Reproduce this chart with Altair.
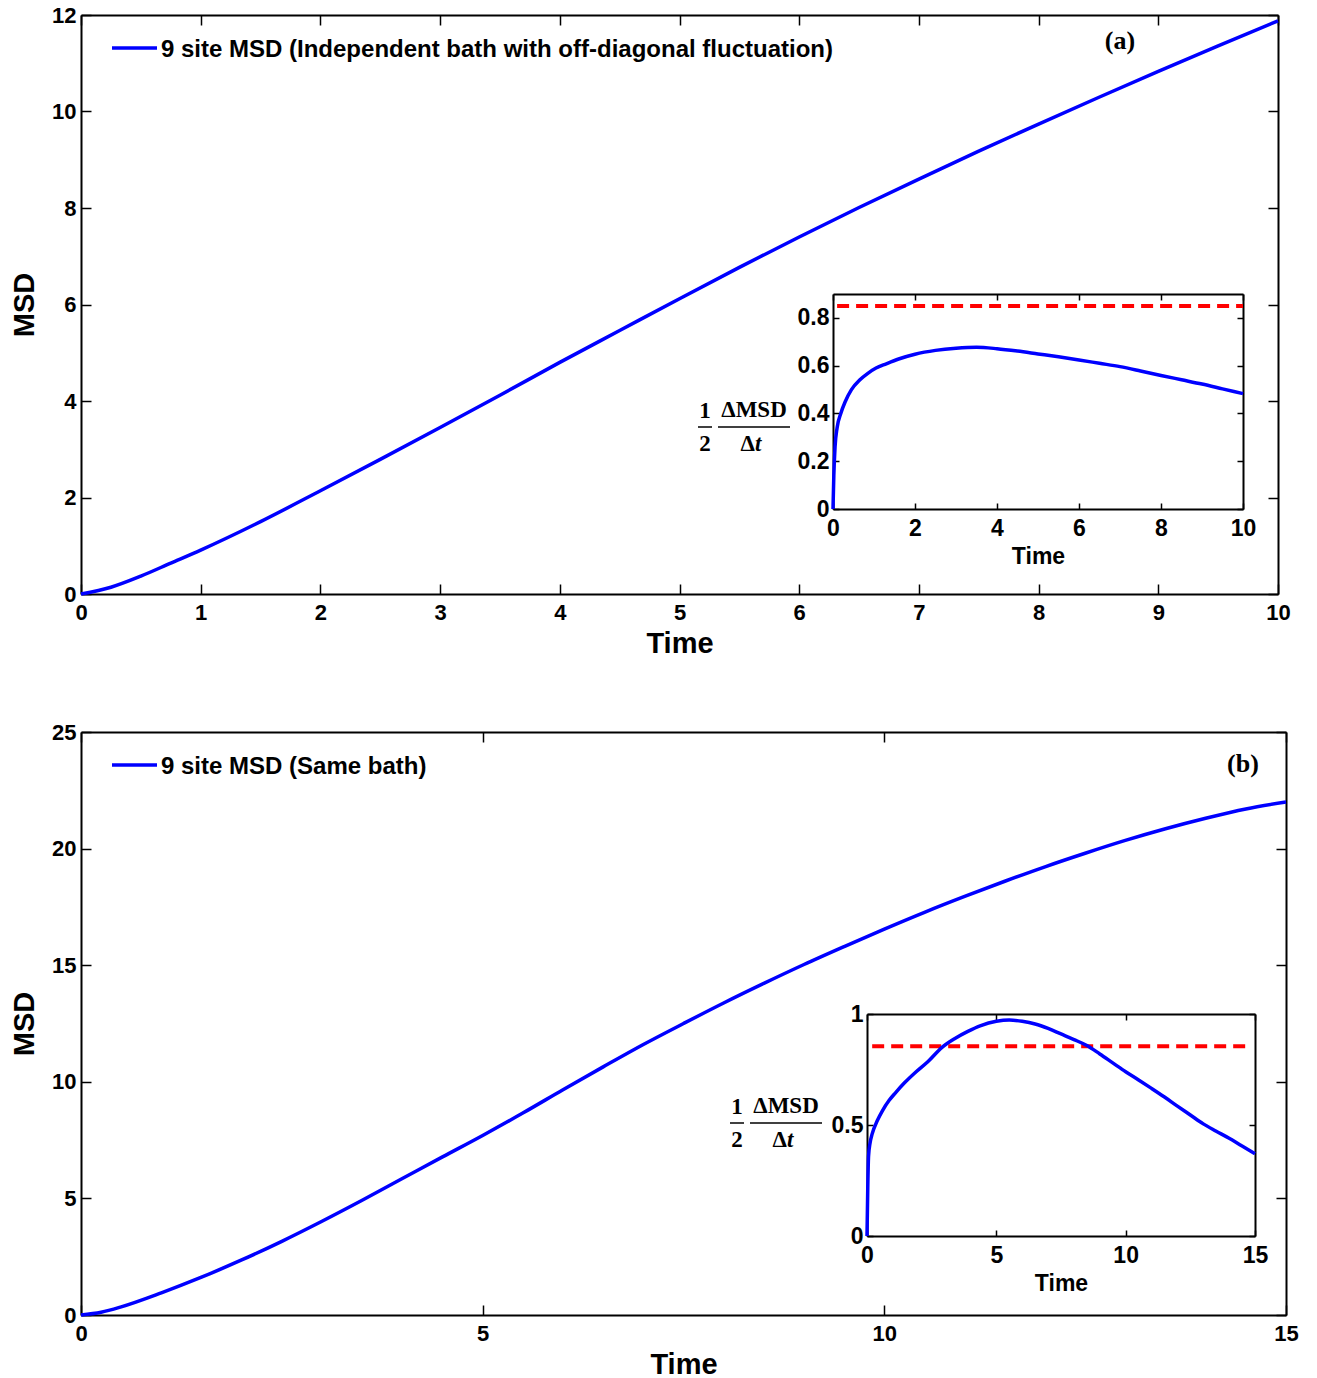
import altair as alt
import pandas as pd

# ---------------- data ----------------
# Panel (a): Independent bath with off-diagonal fluctuation
a_time = [0, 0.25, 0.5, 0.75, 1, 1.5, 2, 2.5, 3, 3.5, 4, 4.5, 5, 5.5, 6, 6.5, 7, 7.5, 8, 8.5, 9, 9.5, 10]
a_msd = [0, 0.14, 0.37, 0.64, 0.91, 1.50, 2.14, 2.79, 3.45, 4.12, 4.80, 5.46, 6.12, 6.77, 7.40, 8.01,
         8.60, 9.18, 9.74, 10.29, 10.83, 11.36, 11.88]
a_in_time = [0, 0.02, 0.05, 0.1, 0.19, 0.3, 0.45, 0.65, 0.85, 1.05, 1.3, 1.6, 2, 2.5, 3, 3.5, 4, 4.5,
             5, 5.5, 6, 6.5, 7, 7.5, 8, 8.5, 9, 9.5, 10]
a_in_rate = [0, 0.14, 0.26, 0.34, 0.40, 0.45, 0.50, 0.54, 0.568, 0.59, 0.608, 0.628, 0.648, 0.664,
             0.673, 0.677, 0.671, 0.661, 0.649, 0.637, 0.624, 0.610, 0.596, 0.578, 0.559, 0.541,
             0.523, 0.503, 0.483]
a_ref_level = 0.85
a_ref_span = [0.1, 10.0]
a_legend = "9 site MSD (Independent bath with off-diagonal fluctuation)"

# Panel (b): Same bath
b_time = [0, 0.25, 0.5, 1, 1.5, 2, 2.5, 3, 3.5, 4, 4.5, 5, 5.5, 6, 6.5, 7, 7.5, 8, 8.5, 9, 9.5, 10,
          10.5, 11, 11.5, 12, 12.5, 13, 13.5, 14, 14.5, 15]
b_msd = [0, 0.12, 0.35, 0.95, 1.62, 2.36, 3.16, 4.02, 4.92, 5.85, 6.78, 7.70, 8.66, 9.66, 10.64,
         11.6, 12.5, 13.38, 14.22, 15.03, 15.8, 16.55, 17.27, 17.95, 18.6, 19.22, 19.8, 20.35,
         20.85, 21.3, 21.7, 22.0]
b_in_time = [0, 0.03, 0.06, 0.12, 0.2, 0.4, 0.6, 0.85, 1.1, 1.45, 1.9, 2.35, 2.9, 3.4, 3.9, 4.4, 5,
             5.5, 6, 6.5, 7, 7.5, 8, 8.5, 9, 9.5, 10, 10.5, 11, 11.5, 12, 12.5, 13, 13.5, 14, 14.5, 15]
b_in_rate = [0, 0.22, 0.36, 0.42, 0.46, 0.52, 0.565, 0.61, 0.645, 0.69, 0.74, 0.785, 0.85, 0.89,
             0.922, 0.948, 0.967, 0.973, 0.967, 0.955, 0.935, 0.91, 0.885, 0.858, 0.82, 0.78, 0.74,
             0.703, 0.665, 0.626, 0.585, 0.545, 0.505, 0.472, 0.44, 0.405, 0.371]
b_ref_level = 0.855
b_ref_span = [0.2, 14.8]
b_legend = "9 site MSD (Same bath)"

a_xticks = [0, 1, 2, 3, 4, 5, 6, 7, 8, 9, 10]
a_yticks = [0, 2, 4, 6, 8, 10, 12]
a_in_xticks = [0, 2, 4, 6, 8, 10]
a_in_yticks = [0, 0.2, 0.4, 0.6, 0.8]
b_xticks = [0, 5, 10, 15]
b_yticks = [0, 5, 10, 15, 20, 25]
b_in_xticks = [0, 5, 10, 15]
b_in_yticks = [0, 0.5, 1]

FONT = "Liberation Sans"
SERIF = "Liberation Serif"
BLUE = "#0000FF"
RED = "#FF0000"


def axis_kw(lab, ttl):
    return dict(labelFont=FONT, labelFontSize=lab, labelFontWeight="bold", labelColor="black",
                titleFont=FONT, titleFontSize=ttl, titleFontWeight="bold", titleColor="black",
                domainColor="black", domainWidth=2, tickColor="black", tickWidth=1.5,
                grid=False, labelFlush=False, format="~f")


def frame(df, xf, yf, sx, sy, xvals, yvals, W, H, xl, xr, yt, yb, tick, lab, ttl,
          xtitle, ytitle, xpad, ypad, xtpad, ytpad):
    kw = axis_kw(lab, ttl)
    base = alt.Chart(df).mark_point(opacity=0)
    l1 = base.encode(
        x=alt.X(xf, type="quantitative", scale=sx, title=xtitle,
                axis=alt.Axis(orient="bottom", offset=yb - H, values=xvals, ticks=False, tickSize=0,
                              labelPadding=xpad, titlePadding=xtpad, **kw)),
        y=alt.Y(yf, type="quantitative", scale=sy, title=ytitle,
                axis=alt.Axis(orient="left", offset=-xl, values=yvals, ticks=False, tickSize=0,
                              labelPadding=ypad, titlePadding=ytpad, **kw)),
    )
    l2 = base.encode(
        x=alt.X(xf, type="quantitative", scale=sx, title=None,
                axis=alt.Axis(orient="top", offset=-yb, values=xvals, labels=False, domain=False,
                              tickSize=tick, **kw)),
        y=alt.Y(yf, type="quantitative", scale=sy, title=None,
                axis=alt.Axis(orient="right", offset=xl - W, values=yvals, labels=False, domain=False,
                              tickSize=tick, **kw)),
    )
    l3 = base.encode(
        x=alt.X(xf, type="quantitative", scale=sx, title=None,
                axis=alt.Axis(orient="bottom", offset=yt - H, values=xvals, labels=False,
                              tickSize=tick, **kw)),
        y=alt.Y(yf, type="quantitative", scale=sy, title=None,
                axis=alt.Axis(orient="left", offset=-xr, values=yvals, labels=False,
                              tickSize=tick, **kw)),
    )
    return [l1, l2, l3]


def text_layer(s, x, y, size, font=FONT, weight="bold", style="normal", align="center"):
    return alt.Chart(pd.DataFrame({"s": [s]})).mark_text(
        font=font, fontSize=size, fontWeight=weight, fontStyle=style, align=align,
        baseline="middle", color="black"
    ).encode(x=alt.value(x), y=alt.value(y), text="s:N")


def hbar(x1, x2, y, width=1.5, color="black"):
    return alt.Chart(pd.DataFrame({"k": [0]})).mark_rule(color=color, strokeWidth=width).encode(
        x=alt.value(x1), x2=alt.value(x2), y=alt.value(y))


def panel(W, H, t, msd, xdom, ydom, xticks, yticks,
          it, irate, ixdom, iydom, ixticks, iyticks, irx, iry, ref_level, ref_span,
          legend, tag, tagpos, frac):
    main_df = pd.DataFrame({"t": t, "msd": msd})
    sx = alt.Scale(domain=xdom, nice=False, zero=False)
    sy = alt.Scale(domain=ydom, nice=False, zero=False)
    main_layers = frame(main_df, "t", "msd", sx, sy, xticks, yticks, W, H,
                        0, W, 0, H, 10, 22, 29, "Time", "MSD", 8, 5, 6, 12)
    main_line = alt.Chart(main_df).mark_line(color=BLUE, strokeWidth=3.5,
                                             interpolate="monotone").encode(
        x=alt.X("t:Q", scale=sx, axis=None), y=alt.Y("msd:Q", scale=sy, axis=None))
    main_group = alt.layer(*main_layers, main_line).resolve_axis(x="independent", y="independent")

    in_df = pd.DataFrame({"t": it, "r": irate})
    isx = alt.Scale(domain=ixdom, range=irx, nice=False, zero=False)
    isy = alt.Scale(domain=iydom, range=iry, nice=False, zero=False)
    in_layers = frame(in_df, "t", "r", isx, isy, ixticks, iyticks, W, H,
                      irx[0], irx[1], iry[1], iry[0], 6, 23, 23, "Time", None, 8, 4, 5, 0)
    ref_df = pd.DataFrame({"x0": [ref_span[0]], "x1": [ref_span[1]], "y": [ref_level]})
    ref = alt.Chart(ref_df).mark_rule(color=RED, strokeWidth=4, strokeDash=[12, 7]).encode(
        x=alt.X("x0:Q", scale=isx, axis=None), x2="x1:Q", y=alt.Y("y:Q", scale=isy, axis=None))
    in_line = alt.Chart(in_df).mark_line(color=BLUE, strokeWidth=3.5,
                                         interpolate="monotone").encode(
        x=alt.X("t:Q", scale=isx, axis=None), y=alt.Y("r:Q", scale=isy, axis=None))
    in_group = alt.layer(*in_layers, ref, in_line).resolve_axis(x="independent", y="independent")

    # legend
    leg = [
        hbar(31, 76, 33, width=3.5, color=BLUE),
        text_layer(legend, 80, 35, 24, align="left"),
    ]
    tagl = text_layer(tag, tagpos[0], tagpos[1], 26, font=SERIF)
    fx1, fx2, fy = frac  # center x of "1/2", center x of ΔMSD/Δt, bar y
    fraction = [
        text_layer("1", fx1, fy - 16, 23, font=SERIF),
        text_layer("2", fx1, fy + 17, 23, font=SERIF),
        hbar(fx1 - 7, fx1 + 7, fy),
        text_layer("ΔMSD", fx2, fy - 17, 23, font=SERIF),
        text_layer("Δ", fx2 + 1, fy + 17, 23, font=SERIF, align="right"),
        text_layer("t", fx2 + 1, fy + 17, 23, font=SERIF, style="italic", align="left"),
        hbar(fx2 - 36, fx2 + 36, fy),
    ]
    return alt.layer(main_group, in_group, *leg, tagl, *fraction).resolve_scale(
        x="independent", y="independent").resolve_axis(
        x="independent", y="independent").properties(width=W, height=H)


panel_a = panel(1197, 579, a_time, a_msd, [0, 10], [0, 12], a_xticks, a_yticks,
                a_in_time, a_in_rate, [0, 10], [0, 0.9], a_in_xticks, a_in_yticks,
                [752, 1162], [494, 279], a_ref_level, a_ref_span,
                a_legend, "(a)", (1039, 26), (624, 673, 412))

panel_b = panel(1205, 583, b_time, b_msd, [0, 15], [0, 25], b_xticks, b_yticks,
                b_in_time, b_in_rate, [0, 15], [0, 1], b_in_xticks, b_in_yticks,
                [786, 1174], [504, 282], b_ref_level, b_ref_span,
                b_legend, "(b)", (1162, 32), (656, 705, 391))

chart = alt.vconcat(panel_a, panel_b, spacing=63).properties(
    padding={"left": 10, "top": 4, "right": 5, "bottom": 5},
    background="white",
).configure_view(strokeWidth=0)

chart.save("out.html", embed_options={"renderer": "svg", "actions": False})
